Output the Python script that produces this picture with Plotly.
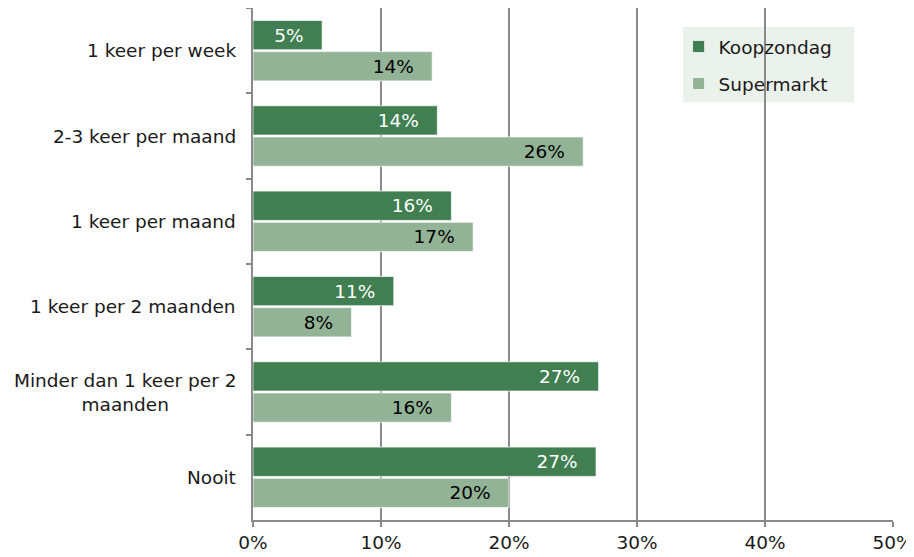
import plotly.graph_objects as go

categories = ["1 keer per week", "2-3 keer per maand", "1 keer per maand",
              "1 keer per 2 maanden", "Minder dan 1 keer per 2<br>maanden", "Nooit"]
koopzondag = [0.054, 0.144, 0.155, 0.110, 0.270, 0.268]
supermarkt = [0.140, 0.258, 0.172, 0.077, 0.155, 0.200]
x_ticks = [0, 0.1, 0.2, 0.3, 0.4, 0.5]
x_ticklabels = ["0%", "10%", "20%", "30%", "40%", "50%"]

FONT = "DejaVu Sans, Verdana, sans-serif"
FS = 18.5
DARK = "#417f52"
LIGHT = "#93b397"
GRID = "#8a8a8a"
PAD = "\u00a0\u00a0\u2009"

fig = go.Figure()
fig.add_trace(go.Bar(
    name="Koopzondag", y=categories, x=koopzondag, orientation="h",
    marker=dict(color=DARK, line=dict(color="rgba(255,255,255,0.7)", width=1)),
    texttemplate="%{x:.0%}" + PAD, textposition="inside", insidetextanchor="end",
    textfont=dict(color="white", size=FS, family=FONT), legendgroup="a",
    hoverinfo="skip"))
fig.add_trace(go.Bar(
    name="Supermarkt", y=categories, x=supermarkt, orientation="h",
    marker=dict(color=LIGHT, line=dict(color="rgba(255,255,255,0.7)", width=1)),
    texttemplate="%{x:.0%}" + PAD, textposition="inside", insidetextanchor="end",
    textfont=dict(color="black", size=FS, family=FONT), legendgroup="b",
    hoverinfo="skip"))

for c in categories:
    fig.add_annotation(x=0, xref="paper", y=c, yref="y", text=c, showarrow=False,
                       xanchor="right", align="center", xshift=-15,
                       font=dict(family=FONT, size=FS, color="#1a1a1a"))

# legend background box
fig.add_shape(type="rect", xref="paper", yref="paper",
              x0=0.672, x1=0.939, y0=0.816, y1=0.963,
              fillcolor="#ebf1eb", line=dict(width=0), layer="below")

fig.update_layout(
    width=906, height=549,
    margin=dict(l=245, r=21, t=0, b=37),
    paper_bgcolor="white", plot_bgcolor="white",
    barmode="group", bargap=0.27, bargroupgap=0.06,
    font=dict(family=FONT, size=FS, color="#1a1a1a"),
    showlegend=True,
    legend=dict(x=0.665, y=0.961, xanchor="left", yanchor="top",
                bgcolor="rgba(0,0,0,0)", font=dict(family=FONT, size=FS, color="#1a1a1a"),
                tracegroupgap=10, traceorder="grouped"),
)
fig.update_xaxes(range=[0, 0.5], tickvals=x_ticks, ticktext=x_ticklabels,
                 showgrid=True, gridcolor=GRID, gridwidth=1.5,
                 showline=True, linecolor=GRID, linewidth=1.5,
                 ticks="outside", ticklen=5, tickcolor=GRID, tickwidth=1.5,
                 zeroline=False, tickfont=dict(family=FONT, size=FS, color="#1a1a1a"))
fig.update_yaxes(autorange="reversed", showticklabels=False,
                 showline=True, linecolor=GRID, linewidth=1.5,
                 ticks="outside", ticklen=5, tickcolor=GRID, tickwidth=1.5,
                 tickson="boundaries", showgrid=False, zeroline=False)

fig.write_html("out.html")
